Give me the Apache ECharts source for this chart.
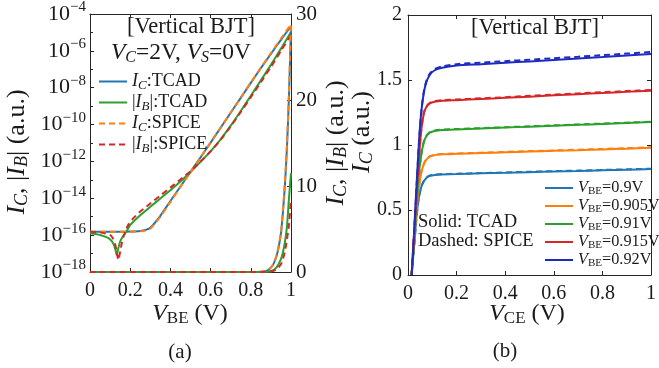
<!DOCTYPE html>
<html>
<head>
<meta charset="utf-8">
<script src="https://cdn.jsdelivr.net/npm/echarts@6/dist/echarts.min.js"></script>
<style>html,body{margin:0;padding:0;background:#fff}#chart{width:659px;height:368px}</style>
</head>
<body>
<div id="chart"></div>
<script>
// (a) log-scale curves, values are log10 of the current
const vbeIc = [0, 0.05, 0.1, 0.15, 0.2, 0.25, 0.275, 0.3, 0.35, 0.4, 0.45, 0.5, 0.55, 0.6, 0.65, 0.7, 0.75, 0.8, 0.85, 0.9, 0.95, 1.0]
const icTcadExp = [-15.81, -15.81, -15.81, -15.81, -15.8, -15.77, -15.72, -15.6, -14.95, -14.15, -13.36, -12.57, -11.78, -10.98, -10.17, -9.36, -8.55, -7.74, -6.94, -6.16, -5.4, -4.66]
const icSpiceExp = [-15.81, -15.81, -15.81, -15.81, -15.81, -15.79, -15.75, -15.65, -15.0, -14.2, -13.38, -12.58, -11.78, -10.97, -10.16, -9.35, -8.54, -7.72, -6.91, -6.12, -5.33, -4.56]
const vbeIbTcad = [0, 0.05, 0.09, 0.11, 0.12, 0.127, 0.133, 0.14, 0.15, 0.165, 0.18, 0.2, 0.25, 0.3, 0.35, 0.4, 0.45, 0.5, 0.55, 0.6, 0.65, 0.7, 0.75, 0.8, 0.85, 0.9, 0.95, 1.0]
const ibTcadExp = [-15.9, -15.99, -16.15, -16.35, -16.55, -16.8, -17.08, -16.75, -16.35, -16.05, -15.83, -15.45, -14.92, -14.46, -14.01, -13.56, -13.09, -12.57, -12.02, -11.45, -10.8, -10.06, -9.26, -8.44, -7.6, -6.76, -5.88, -4.98]
const vbeIbSpice = [0, 0.05, 0.1, 0.115, 0.125, 0.133, 0.141, 0.15, 0.158, 0.166, 0.175, 0.19, 0.21, 0.25, 0.3, 0.35, 0.4, 0.45, 0.5, 0.55, 0.6, 0.65, 0.7, 0.75, 0.8, 0.85, 0.9, 0.95, 1.0]
const ibSpiceExp = [-15.81, -15.85, -15.99, -16.2, -16.5, -16.9, -17.35, -16.9, -16.45, -16.1, -15.82, -15.45, -15.15, -14.72, -14.28, -13.85, -13.42, -12.98, -12.53, -12.01, -11.45, -10.82, -10.1, -9.32, -8.52, -7.7, -6.87, -6.0, -5.14]

// (a) linear curves on the right axis
const vbeLin = [0, 0.8, 0.85, 0.87, 0.89, 0.91, 0.93, 0.95, 0.96, 0.97, 0.98, 0.99, 1.0]
const icTcadLin = [0, 0, 0.02, 0.08, 0.3, 0.8, 2.0, 4.5, 7.0, 10.2, 14.5, 20.5, 28.5]
const icSpiceLin = [0, 0, 0.02, 0.08, 0.32, 0.85, 2.1, 4.6, 7.3, 10.6, 15, 21, 29]
const ibTcadLin = [0, 0, 0, 0.01, 0.05, 0.2, 0.6, 1.5, 2.3, 3.5, 5.3, 8.6, 11.5]
const ibSpiceLin = [0, 0, 0, 0, 0.02, 0.1, 0.35, 0.9, 1.5, 2.4, 3.8, 5.5, 8.5]

// (b) output curves
const vce = [0.015, 0.025, 0.035, 0.045, 0.055, 0.065, 0.075, 0.09, 0.11, 0.14, 0.2, 0.3, 0.4, 0.5, 0.6, 0.7, 0.8, 0.9, 1.0]
const vbeLevels = ['0.9', '0.905', '0.91', '0.915', '0.92']
const icTcadOut = [
  [0, 0.22, 0.45, 0.6, 0.68, 0.72, 0.745, 0.762, 0.77, 0.774, 0.777, 0.782, 0.786, 0.791, 0.796, 0.8, 0.805, 0.81, 0.815],
  [0, 0.25, 0.5, 0.68, 0.79, 0.85, 0.885, 0.91, 0.922, 0.928, 0.932, 0.938, 0.944, 0.95, 0.955, 0.96, 0.966, 0.972, 0.978],
  [0, 0.27, 0.55, 0.78, 0.93, 1.02, 1.065, 1.095, 1.108, 1.115, 1.12, 1.127, 1.134, 1.141, 1.148, 1.155, 1.162, 1.169, 1.176],
  [0, 0.3, 0.62, 0.9, 1.12, 1.24, 1.29, 1.32, 1.333, 1.34, 1.345, 1.354, 1.363, 1.372, 1.382, 1.391, 1.4, 1.409, 1.418],
  [0, 0.33, 0.68, 1.02, 1.26, 1.4, 1.48, 1.54, 1.575, 1.595, 1.612, 1.622, 1.633, 1.643, 1.654, 1.665, 1.676, 1.688, 1.7]
]
const icSpiceOut = [
  [0, 0.21, 0.44, 0.6, 0.68, 0.725, 0.75, 0.765, 0.772, 0.776, 0.779, 0.784, 0.789, 0.794, 0.799, 0.803, 0.808, 0.813, 0.818],
  [0, 0.24, 0.49, 0.68, 0.79, 0.855, 0.89, 0.914, 0.925, 0.931, 0.935, 0.941, 0.947, 0.953, 0.958, 0.964, 0.97, 0.976, 0.982],
  [0, 0.26, 0.54, 0.77, 0.93, 1.025, 1.07, 1.1, 1.112, 1.118, 1.123, 1.13, 1.137, 1.144, 1.151, 1.158, 1.165, 1.172, 1.18],
  [0, 0.29, 0.61, 0.9, 1.12, 1.245, 1.295, 1.325, 1.338, 1.345, 1.35, 1.359, 1.368, 1.378, 1.388, 1.397, 1.406, 1.415, 1.424],
  [0, 0.32, 0.67, 1.01, 1.26, 1.41, 1.49, 1.55, 1.585, 1.605, 1.622, 1.633, 1.645, 1.656, 1.668, 1.679, 1.691, 1.703, 1.715]
]

const SERIF = 'Liberation Serif'
const INK = '#1a1a1a'
const AXIS = '#262626'
const C = { blue: '#2077b4', orange: '#ff7f0e', green: '#2ca02c', red: '#d62728', navy: '#1e2bc0' }
const outColors = [C.blue, C.orange, C.green, C.red, C.navy]

const zip = (xs, ys) => xs.map((x, i) => [x, ys[i]])

function richFor(size, lh) {
  lh = lh || size + 2
  const sub = Math.round(size * 0.7)
  const pad = [Math.round(size * 0.42), 0, 0, 0]
  return {
    n: { fontFamily: SERIF, fontSize: size, color: INK, lineHeight: lh },
    i: { fontFamily: SERIF, fontSize: size, fontStyle: 'italic', color: INK, lineHeight: lh },
    s: { fontFamily: SERIF, fontSize: sub, fontStyle: 'italic', color: INK, lineHeight: lh, padding: pad },
    r: { fontFamily: SERIF, fontSize: sub, color: INK, lineHeight: lh, padding: pad },
  }
}

const line = (name, data, color, dashed, xi, yi) => ({
  type: 'line', name, data, xAxisIndex: xi, yAxisIndex: yi,
  showSymbol: false, symbol: 'none', smooth: 0.2,
  lineStyle: { color, width: 2, type: dashed ? [6, 4] : 'solid' },
  itemStyle: { color }, silent: true, animation: false,
})

const tickStyle = { inside: true, length: 4, lineStyle: { color: AXIS } }
const axisLine = { show: true, onZero: false, lineStyle: { color: AXIS, width: 1 } }
const tickLabel = { color: INK, fontFamily: SERIF, fontSize: 20 }

const legendA = {
  'IC:TCAD': '{i|I}{s|C}{n|:TCAD}',
  '|IB|:TCAD': '{n||}{i|I}{s|B}{n||:TCAD}',
  'IC:SPICE': '{i|I}{s|C}{n|:SPICE}',
  '|IB|:SPICE': '{n||}{i|I}{s|B}{n||:SPICE}',
}

const series = [
  line('IC:TCAD', zip(vbeIc, icTcadExp), C.blue, false, 0, 0),
  line('|IB|:TCAD', zip(vbeIbTcad, ibTcadExp), C.green, false, 0, 0),
  line('linIcT', zip(vbeLin, icTcadLin), C.blue, false, 0, 1),
  line('linIbT', zip(vbeLin, ibTcadLin), C.green, false, 0, 1),
  line('IC:SPICE', zip(vbeIc, icSpiceExp), C.orange, true, 0, 0),
  line('|IB|:SPICE', zip(vbeIbSpice, ibSpiceExp), C.red, true, 0, 0),
  line('linIcS', zip(vbeLin, icSpiceLin), C.orange, true, 0, 1),
  line('linIbS', zip(vbeLin, ibSpiceLin), C.red, true, 0, 1),
]
vbeLevels.forEach((v, k) => series.push(line('VBE=' + v, zip(vce, icTcadOut[k]), outColors[k], false, 2, 2)))
vbeLevels.forEach((v, k) => series.push(line('spice' + v, zip(vce, icSpiceOut[k]), outColors[k], true, 2, 2)))

const txt = (x, y, text, size, extra, align) => Object.assign({
  type: 'text', x, y, silent: true,
  style: { text, rich: richFor(size), align: align || 'center', verticalAlign: 'middle', fontFamily: SERIF, fontSize: size, fill: INK },
}, extra || {})

const yLabel = '{i|I}{s|C}{n|, |}{i|I}{s|B}{n|| (a.u.)}'

const option = {
  animation: false,
  backgroundColor: '#fff',
  grid: [
    { left: 90, top: 14, width: 201, height: 258 },
    { left: 408, top: 15, width: 249, height: 260 },
  ],
  xAxis: [
    { type: 'value', gridIndex: 0, min: 0, max: 1, interval: 0.2, axisLine, axisTick: tickStyle, splitLine: { show: false }, axisLabel: { ...tickLabel, margin: 9 } },
    { type: 'value', gridIndex: 0, position: 'top', min: 0, max: 1, interval: 0.2, axisLine, axisTick: tickStyle, splitLine: { show: false }, axisLabel: { show: false } },
    { type: 'value', gridIndex: 1, min: 0, max: 1, interval: 0.2, axisLine, axisTick: tickStyle, splitLine: { show: false }, axisLabel: { ...tickLabel, margin: 9 } },
    { type: 'value', gridIndex: 1, position: 'top', min: 0, max: 1, interval: 0.2, axisLine, axisTick: tickStyle, splitLine: { show: false }, axisLabel: { show: false } },
  ],
  yAxis: [
    {
      type: 'value', gridIndex: 0, min: -18, max: -4, interval: 2, axisLine, axisTick: tickStyle,
      minorTick: { show: true, splitNumber: 2, length: 3, lineStyle: { color: AXIS } },
      splitLine: { show: false },
      axisLabel: {
        ...tickLabel, margin: 4,
        formatter: v => '{b|10}{p|\u2212' + Math.abs(v) + '}',
        rich: {
          b: { fontFamily: SERIF, fontSize: 22, color: INK },
          p: { fontFamily: SERIF, fontSize: 15, color: INK, padding: [0, 0, 13, 0] },
        },
      },
    },
    { type: 'value', gridIndex: 0, position: 'right', min: 0, max: 30, interval: 10, axisLine, axisTick: tickStyle, splitLine: { show: false }, axisLabel: { ...tickLabel, fontSize: 21, margin: 5 } },
    { type: 'value', gridIndex: 1, min: 0, max: 2, interval: 0.5, axisLine, axisTick: tickStyle, splitLine: { show: false }, axisLabel: { ...tickLabel, margin: 6 } },
    { type: 'value', gridIndex: 1, position: 'right', min: 0, max: 2, interval: 0.5, axisLine, axisTick: tickStyle, splitLine: { show: false }, axisLabel: { show: false } },
  ],
  legend: [
    {
      data: Object.keys(legendA), orient: 'vertical', left: 93, top: 66,
      itemWidth: 28, itemHeight: 14, itemGap: 0, selectedMode: false,
      itemStyle: { opacity: 0 },
      formatter: name => legendA[name],
      textStyle: { fontFamily: SERIF, fontSize: 18, color: INK, rich: richFor(18, 17) },
    },
    {
      data: vbeLevels.map(v => 'VBE=' + v), orient: 'vertical', left: 539, top: 174,
      itemWidth: 28, itemHeight: 14, itemGap: 0, selectedMode: false,
      itemStyle: { opacity: 0 },
      formatter: name => '{i|V}{r|BE}{n|=' + name.slice(4) + 'V}',
      textStyle: { fontFamily: SERIF, fontSize: 16.3, color: INK, rich: richFor(16.3, 17) },
    },
  ],
  graphic: [
    txt(191, 27, '[Vertical BJT]', 22.5),
    txt(181, 53, '{i|V}{s|C}{n|=2V, }{i|V}{s|S}{n|=0V}', 23.5),
    txt(17, 152, yLabel, 26, { rotation: Math.PI / 2 }),
    txt(336, 143, yLabel, 26, { rotation: Math.PI / 2 }),
    txt(362, 132, '{i|I}{s|C}{n| (a.u.)}', 26, { rotation: Math.PI / 2 }),
    txt(190, 314, '{i|V}{r|BE}{n| (V)}', 24),
    txt(527, 314, '{i|V}{r|CE}{n| (V)}', 24),
    txt(180, 352, '(a)', 21),
    txt(505, 351, '(b)', 21),
    txt(535, 28, '[Vertical BJT]', 22.5),
    txt(418, 222, 'Solid: TCAD', 18.5, null, 'left'),
    txt(418, 241, 'Dashed: SPICE', 18.5, null, 'left'),
  ],
  series,
}

const chart = echarts.init(document.getElementById('chart'), null, { renderer: 'canvas' })
chart.setOption(option)
</script>
</body>
</html>
